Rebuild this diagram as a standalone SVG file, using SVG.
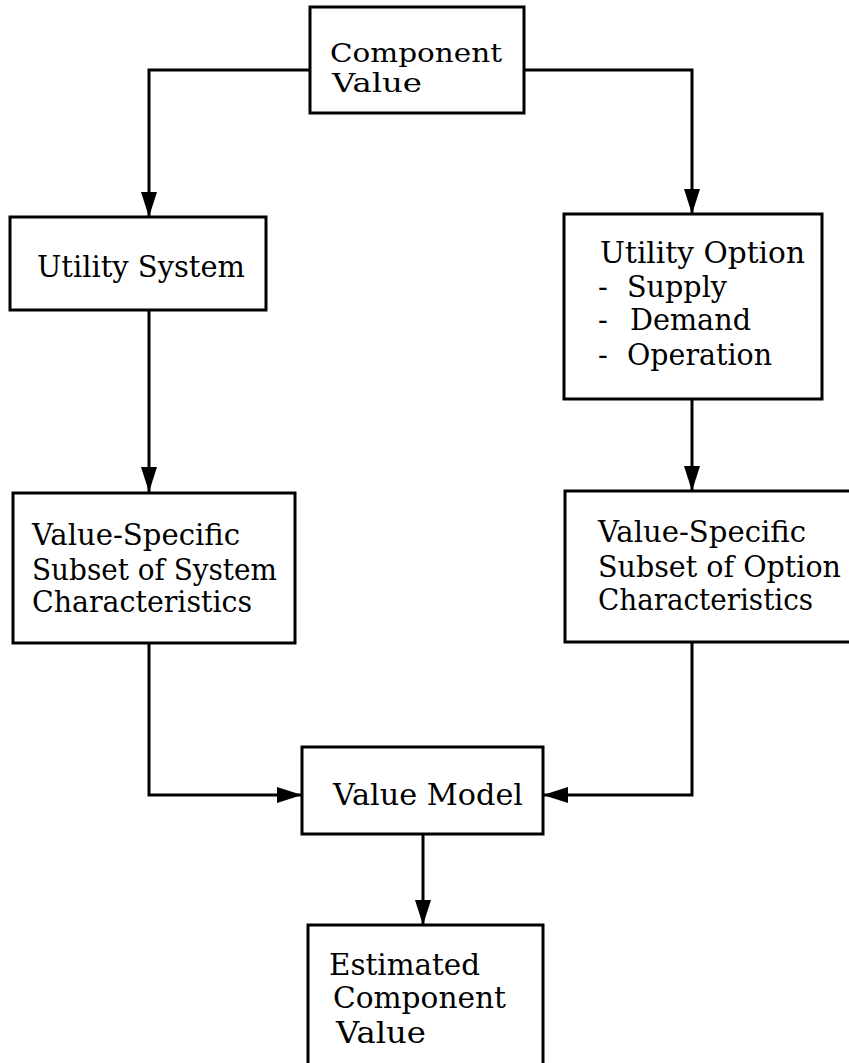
<svg xmlns="http://www.w3.org/2000/svg" width="849" height="1063" viewBox="0 0 849 1063">
<style>
.box{fill:#fff;stroke:#000;stroke-width:3}
.t{font-family:"DejaVu Serif","Liberation Serif",serif;font-size:29px;fill:#000}
.s{font-size:26px}
.c{fill:none;stroke:#000;stroke-width:3}
</style>
<defs>
<marker id="ah" markerUnits="userSpaceOnUse" markerWidth="26" markerHeight="16" refX="25" refY="8" orient="auto">
<path d="M0,0 L25,8 L0,16 z" fill="#000"/>
</marker>
</defs>
<rect width="849" height="1063" fill="#fff"/>
<g id="connectors">
<path class="c" d="M310,70 H149 V217" marker-end="url(#ah)"/>
<path class="c" d="M524,70 H692 V214" marker-end="url(#ah)"/>
<path class="c" d="M149,310 V492" marker-end="url(#ah)"/>
<path class="c" d="M692,399 V491" marker-end="url(#ah)"/>
<path class="c" d="M149,643 V795 H302" marker-end="url(#ah)"/>
<path class="c" d="M692,642 V795 H543" marker-end="url(#ah)"/>
<path class="c" d="M423,834 V925" marker-end="url(#ah)"/>
</g>
<g id="component-value">
<rect class="box" x="310" y="7" width="214" height="106"/>
<text class="t s" x="330" y="62" textLength="172" lengthAdjust="spacingAndGlyphs">Component</text>
<text class="t s" x="332" y="92" textLength="90" lengthAdjust="spacingAndGlyphs">Value</text>
</g>
<g id="utility-system">
<rect class="box" x="10" y="217" width="256" height="93"/>
<text class="t" x="37" y="277" textLength="208" lengthAdjust="spacingAndGlyphs">Utility System</text>
</g>
<g id="utility-option">
<rect class="box" x="564" y="214" width="258" height="185"/>
<text class="t" x="600" y="263" textLength="205" lengthAdjust="spacingAndGlyphs">Utility Option</text>
<text class="t" x="598" y="297">-</text>
<text class="t" x="627" y="297" textLength="100" lengthAdjust="spacingAndGlyphs">Supply</text>
<text class="t" x="598" y="330">-</text>
<text class="t" x="630" y="330" textLength="121" lengthAdjust="spacingAndGlyphs">Demand</text>
<text class="t" x="598" y="365">-</text>
<text class="t" x="627" y="365" textLength="145" lengthAdjust="spacingAndGlyphs">Operation</text>
</g>
<g id="system-subset">
<rect class="box" x="13" y="493" width="282" height="150"/>
<text class="t" x="32" y="545" textLength="208" lengthAdjust="spacingAndGlyphs">Value-Specific</text>
<text class="t" x="32" y="580" textLength="245" lengthAdjust="spacingAndGlyphs">Subset of System</text>
<text class="t" x="32" y="612" textLength="220" lengthAdjust="spacingAndGlyphs">Characteristics</text>
</g>
<g id="option-subset">
<rect class="box" x="565" y="491" width="300" height="151"/>
<text class="t" x="598" y="542" textLength="208" lengthAdjust="spacingAndGlyphs">Value-Specific</text>
<text class="t" x="598" y="577" textLength="243" lengthAdjust="spacingAndGlyphs">Subset of Option</text>
<text class="t" x="598" y="610" textLength="215" lengthAdjust="spacingAndGlyphs">Characteristics</text>
</g>
<g id="value-model">
<rect class="box" x="302" y="747" width="241" height="87"/>
<text class="t" x="333" y="805" textLength="190" lengthAdjust="spacingAndGlyphs">Value Model</text>
</g>
<g id="estimated-component-value">
<rect class="box" x="308" y="925" width="235" height="160"/>
<text class="t" x="329" y="975" textLength="151" lengthAdjust="spacingAndGlyphs">Estimated</text>
<text class="t" x="333" y="1008" textLength="173" lengthAdjust="spacingAndGlyphs">Component</text>
<text class="t" x="336" y="1043" textLength="90" lengthAdjust="spacingAndGlyphs">Value</text>
</g>
</svg>
